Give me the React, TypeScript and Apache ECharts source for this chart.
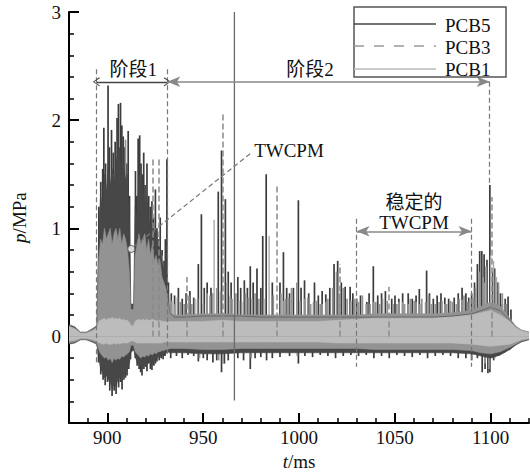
import React, { useEffect, useRef } from "react";
import * as echarts from "echarts";

const FONT = "'Liberation Serif', 'Times New Roman', 'Noto Sans CJK SC', serif";

// axis ticks
const xMajorTicks = [900, 950, 1000, 1050, 1100];
const xMinorTicks = [880, 890, 900, 910, 920, 930, 940, 950, 960, 970, 980, 990, 1000, 1010, 1020, 1030, 1040, 1050, 1060, 1070, 1080, 1090, 1100, 1110, 1120];
const yMajorTicks = [0, 1, 2, 3];
const yMinorTicks = [-0.8, -0.6, -0.4, -0.2, 0, 0.2, 0.4, 0.6, 0.8, 1, 1.2, 1.4, 1.6, 1.8, 2, 2.2, 2.4, 2.6, 2.8, 3];

// noise band envelopes (t in ms, p in MPa)
const bandTimes = [
  880, 883, 886, 889, 892, 894.5,
  895.5, 896.5, 897.5, 898.5, 899.5, 900.5, 901.5, 902.5, 903.5, 904.5, 905.5, 906.5, 907.5, 908.5, 909.5, 910.5, 911.5, 912.3, 913.7, 914.5, 915.5, 916.5, 917.5, 918.5, 919.5, 920.5, 921.5, 922.5, 923.5, 924.5, 925.5, 926.5, 927.5, 928.5, 929.5, 930.5, 931.5, 932.5,
  935, 940, 950, 960, 970, 980, 990, 1000, 1010, 1020, 1030, 1040, 1050, 1060, 1070, 1080, 1090, 1095, 1100, 1105, 1110, 1113, 1116, 1120,
];
const pcb5Upper = [
  0.11, 0.09, 0.04, 0.04, 0.07, 0.1,
  1.0, 1.3, 1.2, 1.5, 1.35, 1.6, 1.4, 1.55, 1.45, 1.6, 1.7, 1.75, 1.5, 1.6, 1.45, 1.5, 1.1, 0.3, 0.3, 1.2, 1.1, 1.5, 1.35, 1.4, 1.2, 1.3, 1.1, 1.0, 1.05, 0.95, 1.0, 0.8, 0.85, 0.7, 0.6, 0.7, 0.5, 0.22,
  0.18, 0.18, 0.19, 0.19, 0.19, 0.18, 0.18, 0.18, 0.18, 0.18, 0.18, 0.18, 0.18, 0.18, 0.18, 0.19, 0.21, 0.24, 0.27, 0.24, 0.15, 0.09, 0.06, 0.04,
];
const pcb5Lower = [
  -0.07, -0.06, -0.03, -0.03, -0.05, -0.07,
  -0.2, -0.3, -0.33, -0.38, -0.36, -0.4, -0.42, -0.48, -0.44, -0.46, -0.4, -0.38, -0.42, -0.35, -0.33, -0.3, -0.25, -0.15, -0.12, -0.18, -0.24, -0.26, -0.28, -0.3, -0.26, -0.27, -0.22, -0.25, -0.26, -0.22, -0.21, -0.19, -0.19, -0.17, -0.18, -0.16, -0.14, -0.15,
  -0.15, -0.15, -0.16, -0.16, -0.15, -0.15, -0.15, -0.15, -0.15, -0.15, -0.15, -0.15, -0.15, -0.15, -0.15, -0.15, -0.16, -0.18, -0.2, -0.17, -0.12, -0.08, -0.05, -0.03,
];
const pcb3Upper = [
  0.1, 0.08, 0.04, 0.04, 0.06, 0.09,
  0.7, 0.9, 0.85, 1.0, 0.9, 0.95, 1.0, 0.85, 0.95, 1.0, 0.9, 1.0, 0.85, 0.95, 0.9, 0.8, 0.6, 0.25, 0.25, 0.75, 0.85, 0.95, 0.85, 0.9, 0.95, 0.8, 0.9, 0.75, 0.85, 0.7, 0.75, 0.65, 0.7, 0.55, 0.5, 0.45, 0.35, 0.22,
  0.2, 0.2, 0.21, 0.21, 0.2, 0.2, 0.2, 0.2, 0.2, 0.2, 0.2, 0.21, 0.21, 0.21, 0.21, 0.22, 0.24, 0.28, 0.32, 0.28, 0.17, 0.1, 0.06, 0.04,
];
const pcb3Lower = [
  -0.06, -0.05, -0.025, -0.025, -0.04, -0.06,
  -0.12, -0.16, -0.18, -0.2, -0.19, -0.22, -0.2, -0.24, -0.2, -0.22, -0.2, -0.21, -0.18, -0.19, -0.17, -0.16, -0.14, -0.08, -0.08, -0.14, -0.16, -0.18, -0.2, -0.18, -0.19, -0.17, -0.18, -0.16, -0.17, -0.15, -0.16, -0.14, -0.14, -0.13, -0.13, -0.12, -0.12, -0.11,
  -0.11, -0.11, -0.12, -0.12, -0.11, -0.11, -0.11, -0.11, -0.11, -0.11, -0.11, -0.12, -0.12, -0.12, -0.12, -0.12, -0.13, -0.15, -0.16, -0.14, -0.1, -0.07, -0.04, -0.025,
];
const pcb1Upper = [
  0.09, 0.07, 0.03, 0.03, 0.05, 0.08,
  0.14, 0.15, 0.16, 0.17, 0.15, 0.17, 0.16, 0.18, 0.16, 0.17, 0.16, 0.17, 0.15, 0.16, 0.15, 0.15, 0.13, 0.1, 0.1, 0.14, 0.15, 0.16, 0.15, 0.16, 0.15, 0.16, 0.15, 0.15, 0.16, 0.15, 0.15, 0.14, 0.15, 0.14, 0.14, 0.14, 0.14, 0.14,
  0.14, 0.14, 0.14, 0.15, 0.14, 0.14, 0.14, 0.14, 0.14, 0.15, 0.16, 0.17, 0.17, 0.17, 0.17, 0.18, 0.2, 0.22, 0.24, 0.2, 0.14, 0.09, 0.06, 0.035,
];
const pcb1Lower = [
  -0.04, -0.035, -0.015, -0.015, -0.025, -0.04,
  -0.06, -0.06, -0.07, -0.07, -0.06, -0.07, -0.07, -0.07, -0.06, -0.07, -0.06, -0.07, -0.06, -0.06, -0.06, -0.06, -0.05, -0.04, -0.04, -0.05, -0.06, -0.06, -0.06, -0.06, -0.06, -0.06, -0.06, -0.06, -0.06, -0.06, -0.06, -0.06, -0.06, -0.06, -0.05, -0.05, -0.05, -0.05,
  -0.05, -0.05, -0.05, -0.05, -0.05, -0.05, -0.05, -0.05, -0.05, -0.06, -0.06, -0.06, -0.06, -0.06, -0.06, -0.06, -0.07, -0.08, -0.09, -0.08, -0.07, -0.05, -0.03, -0.015,
];

// PCB5 peaks and troughs [t, p]
const pcb5Peaks = [
  [895.5, 1.2], [896.5, 1.43], [897.5, 1.55], [898.1, 1.93], [899, 1.6], [900.3, 2.32], [901, 1.75], [902.1, 1.91], [903, 1.7], [904, 1.8], [905, 2.02], [905.7, 2.15], [906.8, 2.16], [907.5, 1.95], [908.2, 1.85], [909, 1.75], [910, 1.6], [910.8, 1.9], [911.5, 1.3],
  [914.6, 1.53], [915.3, 1.3], [916, 1.83], [916.8, 1.86], [917.5, 1.6], [918.2, 1.5], [918.9, 1.7], [919.6, 1.4], [920.6, 1.6], [921.5, 1.3], [922.3, 1.2], [923.2, 1.25], [924, 1.1], [925, 1.36], [925.8, 1.0], [926.7, 0.9], [927.5, 1.1], [928.5, 0.8], [929.5, 0.7], [930.2, 0.9], [931, 1.64], [931.8, 0.5],
  [933.3, 0.4], [935, 0.38], [937, 0.45], [939, 0.35], [941, 0.4], [943, 0.42], [945, 0.36], [947.4, 0.67], [949, 1.13], [950.5, 0.45], [952, 0.5], [954, 0.45], [957.8, 1.34], [959.5, 1.72], [961.5, 1.27], [963, 0.6], [964.5, 0.5], [968, 0.55], [969.5, 0.45], [971.4, 0.52], [973, 0.45], [974.5, 0.65], [976, 0.5], [978, 0.63], [980, 0.45], [981, 0.93], [982.8, 1.5], [986, 0.5], [990, 0.5], [991.8, 0.78], [993.5, 0.45], [995, 0.4], [997, 0.45], [999.6, 1.26],
  [1001, 0.45], [1002.8, 0.52], [1005, 0.4], [1008, 0.5], [1010, 0.38], [1012, 0.42], [1013.9, 0.39], [1016, 0.45], [1018.2, 0.67], [1020.1, 0.7], [1022, 0.5], [1024, 0.46], [1026.6, 0.46], [1028, 0.4], [1030, 0.35], [1032, 0.38], [1035.3, 0.32], [1036.5, 0.4], [1038.7, 0.65], [1041, 0.38], [1043, 0.4], [1045, 0.42], [1048.3, 0.35], [1050, 0.38], [1052, 0.35], [1054, 0.4], [1056.9, 0.4], [1059, 0.35], [1061, 0.38], [1062.7, 0.44], [1066.5, 0.61], [1068, 0.4], [1070, 0.35], [1072, 0.38], [1074, 0.4], [1076, 0.36], [1078, 0.35], [1080.9, 0.36], [1083, 0.4], [1085, 0.45], [1087, 0.4], [1088.5, 0.36], [1090, 0.4], [1091.5, 0.5], [1093, 0.67], [1094.2, 0.79], [1095.3, 0.79], [1096.5, 0.76], [1098, 0.71], [1099.5, 1.4], [1101, 0.6], [1102, 0.63], [1103.5, 0.5], [1105, 0.4], [1106, 0.3], [1107.5, 0.35], [1109, 0.37], [1110.5, 0.25],
];
const pcb5Troughs = [
  [895.3, -0.24], [896.5, -0.35], [897.7, -0.4], [898.8, -0.45], [900, -0.42], [901.2, -0.5], [902.4, -0.55], [903.5, -0.5], [904.5, -0.53], [905.8, -0.47], [906.7, -0.42], [907.6, -0.49], [908.6, -0.4], [909.4, -0.38], [910.2, -0.36], [911.1, -0.3], [912, -0.21], [913.5, -0.13], [914.5, -0.2], [915.5, -0.27], [916.5, -0.3], [917.3, -0.33], [918, -0.36], [919, -0.3], [920, -0.28], [920.6, -0.32], [921.5, -0.25], [922.4, -0.3], [923.2, -0.31], [924.2, -0.27], [925, -0.25], [925.8, -0.23], [927, -0.22], [928, -0.2], [929, -0.21], [930, -0.18], [931.8, -0.12],
  [933, -0.2], [936, -0.18], [939, -0.2], [942, -0.17], [945, -0.18], [947.4, -0.23], [950, -0.2], [952, -0.22], [955, -0.24], [957, -0.22], [959.5, -0.33], [961, -0.25], [963, -0.22], [968, -0.2], [971, -0.22], [974.5, -0.3], [977, -0.2], [980, -0.19], [983, -0.22], [986, -0.2], [990, -0.19], [995, -0.18], [999.6, -0.25],
  [1003, -0.18], [1007, -0.19], [1011, -0.17], [1015, -0.18], [1019, -0.2], [1023, -0.18], [1027, -0.17], [1031, -0.18], [1035, -0.17], [1039, -0.2], [1043, -0.18], [1047, -0.2], [1051, -0.17], [1055, -0.18], [1059, -0.19], [1063, -0.17], [1067, -0.2], [1071, -0.18], [1075, -0.17], [1079, -0.18], [1083, -0.2], [1087, -0.2], [1090, -0.22], [1093, -0.2], [1095.5, -0.33], [1097, -0.3], [1098.5, -0.34], [1099.5, -0.33], [1101.5, -0.22], [1104, -0.18], [1107, -0.15], [1110, -0.12],
];
// the single full-range PCB5 trace at t = 966.3 ms (thin, lighter)
const pcb5FullSpike = [[966.3, 3.0], [966.3, -0.59]];

// PCB3 peaks / troughs [t, p]
const pcb3Peaks = [
  [895.5, 0.8], [896.5, 1.0], [897.5, 0.95], [898.5, 1.2], [899.5, 1.05], [900.5, 1.0], [901.5, 1.1], [902.5, 0.95], [903.6, 1.5], [904.5, 1.05], [905.5, 1.0], [906.5, 1.1], [907.5, 0.95], [908.5, 1.0], [909.4, 1.82], [910.3, 0.95], [911.2, 0.7], [912, 0.3],
  [914.6, 0.8], [915.5, 0.95], [916.5, 1.0], [917.5, 0.9], [918.5, 1.0], [919.5, 0.95], [920.5, 0.85], [921.5, 1.0], [922.5, 0.8], [924.3, 0.85], [925.2, 0.7], [927.5, 0.7], [928.5, 0.75], [929.5, 0.55], [930.5, 0.5], [931.5, 0.4],
  [933.5, 0.33], [935, 0.3], [936.5, 0.36], [938, 0.32], [940, 0.3], [942.5, 0.38], [944, 0.3], [945.5, 0.35], [947, 0.35], [950, 0.3], [952, 0.4], [953.5, 0.38], [955, 0.4], [957, 0.45], [959, 0.42], [962.5, 0.5], [964, 0.38], [965, 0.35], [967, 0.4], [968.5, 0.33], [970, 0.32], [972, 0.4], [973.5, 0.36], [975.5, 0.35], [977, 0.4], [979, 0.35], [981.5, 0.35], [986.5, 0.38], [990.5, 0.4], [992, 0.33], [993, 0.35], [994.5, 0.36], [996, 0.45], [998.8, 0.5],
  [1000.5, 0.33], [1003, 0.35], [1004.5, 0.36], [1006, 0.3], [1007.5, 0.32], [1009, 0.33], [1011, 0.3], [1012, 0.3], [1014, 0.32], [1015, 0.35], [1017.5, 0.45], [1019.5, 0.6], [1021, 0.4], [1023, 0.45], [1025, 0.35], [1027, 0.33], [1029, 0.35], [1031, 0.32], [1033, 0.38], [1035, 0.3], [1037, 0.3], [1039, 0.32], [1040, 0.32], [1042, 0.3], [1043.5, 0.35], [1046, 0.33], [1049, 0.3], [1051, 0.3], [1052, 0.32], [1054, 0.32], [1055, 0.3], [1057, 0.3], [1058, 0.35], [1060, 0.33], [1061, 0.32], [1063, 0.3], [1064, 0.35], [1066, 0.32], [1067.5, 0.38], [1069, 0.3], [1071, 0.3], [1073, 0.32], [1074.5, 0.33], [1076, 0.3], [1077, 0.3], [1079, 0.33], [1080, 0.32], [1082, 0.3], [1083.5, 0.35], [1085, 0.34], [1086, 0.38], [1088, 0.32], [1089, 0.35], [1091, 0.36], [1092, 0.45], [1094, 0.6], [1096, 0.55], [1097.5, 0.65], [1102.5, 0.53], [1104, 0.5], [1106, 0.4], [1108, 0.3],
];
const pcb3Troughs = [
  [895.5, -0.12], [897, -0.2], [899, -0.25], [901, -0.22], [903, -0.3], [905, -0.25], [907, -0.28], [909, -0.22], [911, -0.18], [913, -0.1], [915, -0.18], [917, -0.22], [919, -0.2], [921, -0.22], [923, -0.2], [925, -0.2], [927, -0.18], [929, -0.16], [931, -0.14],
  [948, -0.2], [958, -0.22], [960.3, -0.25], [975, -0.2], [999, -0.18], [1097, -0.25], [1099, -0.3], [1102, -0.2],
];
const pcb3DashedPeaks = [[923.4, 1.65], [926.5, 1.64], [941.5, 0.55], [960.3, 2.06], [988.4, 1.4], [1021.4, 0.67], [1046.5, 0.46], [1100.7, 1.29]];

// PCB1 peaks [t, p]
const pcb1Peaks = [[955.7, 1.08], [984.4, 0.93], [1097, 0.5], [1100, 0.75], [1101.5, 0.7], [1103, 0.55]];

const C5 = "#3c3c3c";
const C3 = "#939393";
const C1 = "#bcbcbc";

export default function App() {
  const ref = useRef<HTMLDivElement>(null);
  useEffect(() => {
    document.body.style.margin = "0";
    const chart = echarts.init(ref.current!, null, { renderer: "svg" });

    const band = (name: string, vals: number[], color: string) => ({
      name,
      type: "line",
      data: bandTimes.map((t, i) => [t, vals[i]]),
      symbol: "none",
      showSymbol: false,
      lineStyle: { width: 0.6, color },
      areaStyle: { color, opacity: 1 },
      silent: true,
    });
    const spikes = (name: string, data: number[][], color: string, w: number) => ({
      name,
      type: "bar",
      data,
      barWidth: w,
      barGap: "-100%",
      itemStyle: { color },
      silent: true,
    });

    const dash = { type: [5, 3], color: "#777", width: 1.2 };
    const chevron = "path://M5,0 L10,9 L9,10 L5,2 L1,10 L0,9 Z";
    const labelFmt = (v: number) => String(v);

    chart.setOption({
      animation: false,
      grid: { left: 69, right: 1, top: 12, bottom: 46, containLabel: false },
      xAxis: [
        {
          type: "value",
          min: 880,
          max: 1120,
          axisLine: { onZero: false, lineStyle: { color: "#000", width: 2 } },
          axisTick: { inside: true, length: 10, customValues: xMajorTicks, lineStyle: { color: "#000", width: 2 } },
          axisLabel: { customValues: xMajorTicks, formatter: labelFmt, margin: 5, fontSize: 19, color: "#111", fontFamily: FONT },
          splitLine: { show: false },
          name: "{i|t}/ms",
          nameLocation: "middle",
          nameGap: 19,
          nameTextStyle: { fontSize: 19, color: "#111", fontFamily: FONT, rich: { i: { fontStyle: "italic", fontSize: 19, fontFamily: FONT, color: "#111" } } },
        },
        {
          type: "value",
          min: 880,
          max: 1120,
          position: "bottom",
          axisLine: { show: false, onZero: false },
          axisTick: { inside: true, length: 5, customValues: xMinorTicks, lineStyle: { color: "#000", width: 1.5 } },
          axisLabel: { show: false },
          splitLine: { show: false },
        },
      ],
      yAxis: [
        {
          type: "value",
          min: -0.8,
          max: 3,
          axisLine: { show: true, onZero: false, lineStyle: { color: "#000", width: 2 } },
          axisTick: { show: true, inside: true, length: 10, customValues: yMajorTicks, lineStyle: { color: "#000", width: 2 } },
          axisLabel: { customValues: yMajorTicks, formatter: labelFmt, margin: 8, fontSize: 19, color: "#111", fontFamily: FONT },
          splitLine: { show: false },
          name: "{i|p}/MPa",
          nameLocation: "middle",
          nameGap: 40,
          nameRotate: 90,
          nameTextStyle: { fontSize: 19, color: "#111", fontFamily: FONT, rich: { i: { fontStyle: "italic", fontSize: 19, fontFamily: FONT, color: "#111" } } },
        },
        {
          type: "value",
          min: -0.8,
          max: 3,
          position: "left",
          axisLine: { show: false, onZero: false },
          axisTick: { show: true, inside: true, length: 5, customValues: yMinorTicks, lineStyle: { color: "#000", width: 1.5 } },
          axisLabel: { show: false },
          splitLine: { show: false },
        },
      ],
      series: [
        band("PCB5 band+", pcb5Upper, "#474747"),
        band("PCB5 band-", pcb5Lower, "#474747"),
        spikes("PCB5", [...pcb5Peaks, ...pcb5Troughs], C5, 1.7),
        band("PCB3 band+", pcb3Upper, C3),
        band("PCB3 band-", pcb3Lower, C3),
        {
          ...spikes("PCB3", [...pcb3Peaks, ...pcb3Troughs], C3, 1.7),
          markLine: {
            silent: true,
            symbol: "none",
            label: { show: false },
            lineStyle: { type: [6, 3], color: "#8a8a8a", width: 1.5 },
            data: pcb3DashedPeaks.map(([t, v]) => [{ coord: [t, 0] }, { coord: [t, v] }]),
          },
        },
        band("PCB1 band+", pcb1Upper, C1),
        band("PCB1 band-", pcb1Lower, C1),
        spikes("PCB1", pcb1Peaks, "#aaaaaa", 1.4),
        {
          name: "PCB5 trace",
          type: "line",
          data: pcb5FullSpike,
          symbol: "none",
          showSymbol: false,
          lineStyle: { width: 1.3, color: "#6a6a6a" },
          silent: true,
          z: 3,
        },
        {
          name: "annot-dash",
          type: "line",
          data: [],
          silent: true,
          z: 10,
          markLine: {
            silent: true,
            symbol: "none",
            label: { show: false },
            lineStyle: dash,
            data: [
              [{ coord: [894.3, 2.47] }, { coord: [894.3, -0.25] }],
              [{ coord: [931.25, 2.47] }, { coord: [931.25, -0.16] }],
              [{ coord: [1099.5, 2.355] }, { coord: [1099.5, 1.4] }],
              [{ coord: [1030, 1.09] }, { coord: [1030, -0.28] }],
              [{ coord: [1090, 1.09] }, { coord: [1090, -0.28] }],
              [{ coord: [974.5, 1.69] }, { coord: [914.1, 0.836] }],
            ],
          },
        },
        {
          name: "annot-arrow1",
          type: "line",
          data: [],
          silent: true,
          z: 10,
          markLine: {
            silent: true,
            symbol: [chevron, chevron],
            symbolSize: [9, 7],
            label: { show: false },
            lineStyle: { type: "solid", color: "#444", width: 1.3 },
            data: [[{ coord: [894.3, 2.355] }, { coord: [931.25, 2.355] }]],
          },
        },
        {
          name: "annot-arrow2",
          type: "line",
          data: [],
          silent: true,
          z: 10,
          markLine: {
            silent: true,
            symbol: ["arrow", "arrow"],
            symbolSize: [8, 13],
            label: { show: false },
            lineStyle: { type: "solid", color: "#888", width: 1.6 },
            itemStyle: { color: "#888" },
            data: [
              [{ coord: [931.25, 2.355] }, { coord: [1099.5, 2.355] }],
              [{ coord: [1030, 0.973] }, { coord: [1090, 0.973] }],
            ],
          },
        },
      ],
    });

    const px = (t: number, v: number) => chart.convertToPixel({ xAxisIndex: 0, yAxisIndex: 0 }, [t, v]) as number[];
    const txt = (t: number, v: number, text: string, align = "center") => {
      const [x, y] = px(t, v);
      return {
        type: "text",
        x,
        y,
        z: 100,
        style: { text, fill: "#111", font: `19px ${FONT}`, textAlign: align, textVerticalAlign: "middle" },
      };
    };
    const [cx, cy] = px(912.5, 0.81);

    chart.setOption({
      graphic: [
        txt(913.5, 2.47, "阶段1"),
        txt(1005.7, 2.47, "阶段2"),
        txt(976.6, 1.72, "TWCPM", "left"),
        txt(1060, 1.24, "稳定的"),
        txt(1060, 1.05, "TWCPM"),
        { type: "circle", shape: { cx, cy, r: 3.5 }, z: 100, style: { fill: "#ddd", stroke: "#666", lineWidth: 1 } },
        { type: "rect", shape: { x: 354, y: 7, width: 152, height: 70 }, z: 100, style: { fill: "#fff", stroke: "#555", lineWidth: 1.5 } },
        { type: "line", shape: { x1: 354, y1: 24, x2: 436, y2: 24 }, z: 101, style: { stroke: "#444", lineWidth: 1.5 } },
        { type: "line", shape: { x1: 354, y1: 46, x2: 436, y2: 46 }, z: 101, style: { stroke: "#999", lineWidth: 1.5, lineDash: [10, 10] } },
        { type: "line", shape: { x1: 354, y1: 69, x2: 436, y2: 69 }, z: 101, style: { stroke: "#bbb", lineWidth: 1.5 } },
        { type: "text", x: 445, y: 25.5, z: 101, style: { text: "PCB5", fill: "#111", font: `19px ${FONT}`, textVerticalAlign: "middle" } },
        { type: "text", x: 445, y: 47.5, z: 101, style: { text: "PCB3", fill: "#111", font: `19px ${FONT}`, textVerticalAlign: "middle" } },
        { type: "text", x: 445, y: 69.5, z: 101, style: { text: "PCB1", fill: "#111", font: `19px ${FONT}`, textVerticalAlign: "middle" } },
      ],
    });

    return () => chart.dispose();
  }, []);
  return <div ref={ref} style={{ width: 530, height: 476 }} />;
}
